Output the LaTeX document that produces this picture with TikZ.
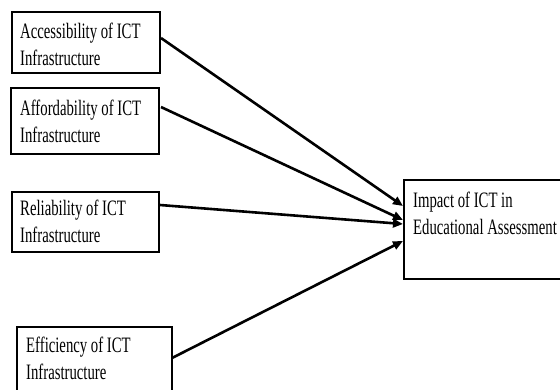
\documentclass[tikz,border=0pt]{standalone}
\usepackage{fontspec}
\setmainfont{Liberation Serif}[FakeStretch=0.67]
\usetikzlibrary{arrows.meta}
\begin{document}
\begin{tikzpicture}[x=1pt,y=-1pt,
  box/.style={draw=black, line width=#1, rectangle, inner sep=0pt},
  box/.default=1.8pt,
  lbl/.style={anchor=north west, align=left, inner sep=0pt,
    font=\fontsize{22}{27}\selectfont},
  arr/.style={line width=2.6pt, -{Triangle[length=10pt,width=8.5pt]}, shorten >=0pt}
]
\useasboundingbox (0,0) rectangle (560,389);
\fill[white] (0,0) rectangle (560,389);
% boxes
\draw[box] (12,12) rectangle (160,73);
\coordinate (b1) at (161,38);
\draw[box=2.6pt] (11,88) rectangle (159,154);
\coordinate (b2) at (161,107);
\draw[box] (12,192) rectangle (159,252);
\coordinate (b3) at (160,205);
\draw[box=1.5pt] (17,327) rectangle (172,395);
\coordinate (b4) at (172,358);
\draw[box] (404,180) rectangle (565,279);
% labels
\node[lbl] (t1) at (20,23) {Accessibility of ICT\\Infrastructure};
\node[lbl] (t2) at (20,100) {Affordability of ICT\\Infrastructure};
\node[lbl] (t3) at (20,200) {Reliability of ICT\\Infrastructure};
\node[lbl] (t4) at (26,337) {Efficiency of ICT\\Infrastructure};
\node[lbl] (t5) at (413,192) {Impact of ICT in\\Educational Assessment};
% target points
\coordinate (e1) at (403,206);
\coordinate (e2) at (403,220);
\coordinate (e3) at (403,224);
\coordinate (e4) at (403,241);
\draw[arr] (b1) -- (e1);
\draw[arr] (b2) -- (e2);
\draw[arr] (b3) -- (e3);
\draw[arr] (b4) -- (e4);
\end{tikzpicture}
\end{document}
